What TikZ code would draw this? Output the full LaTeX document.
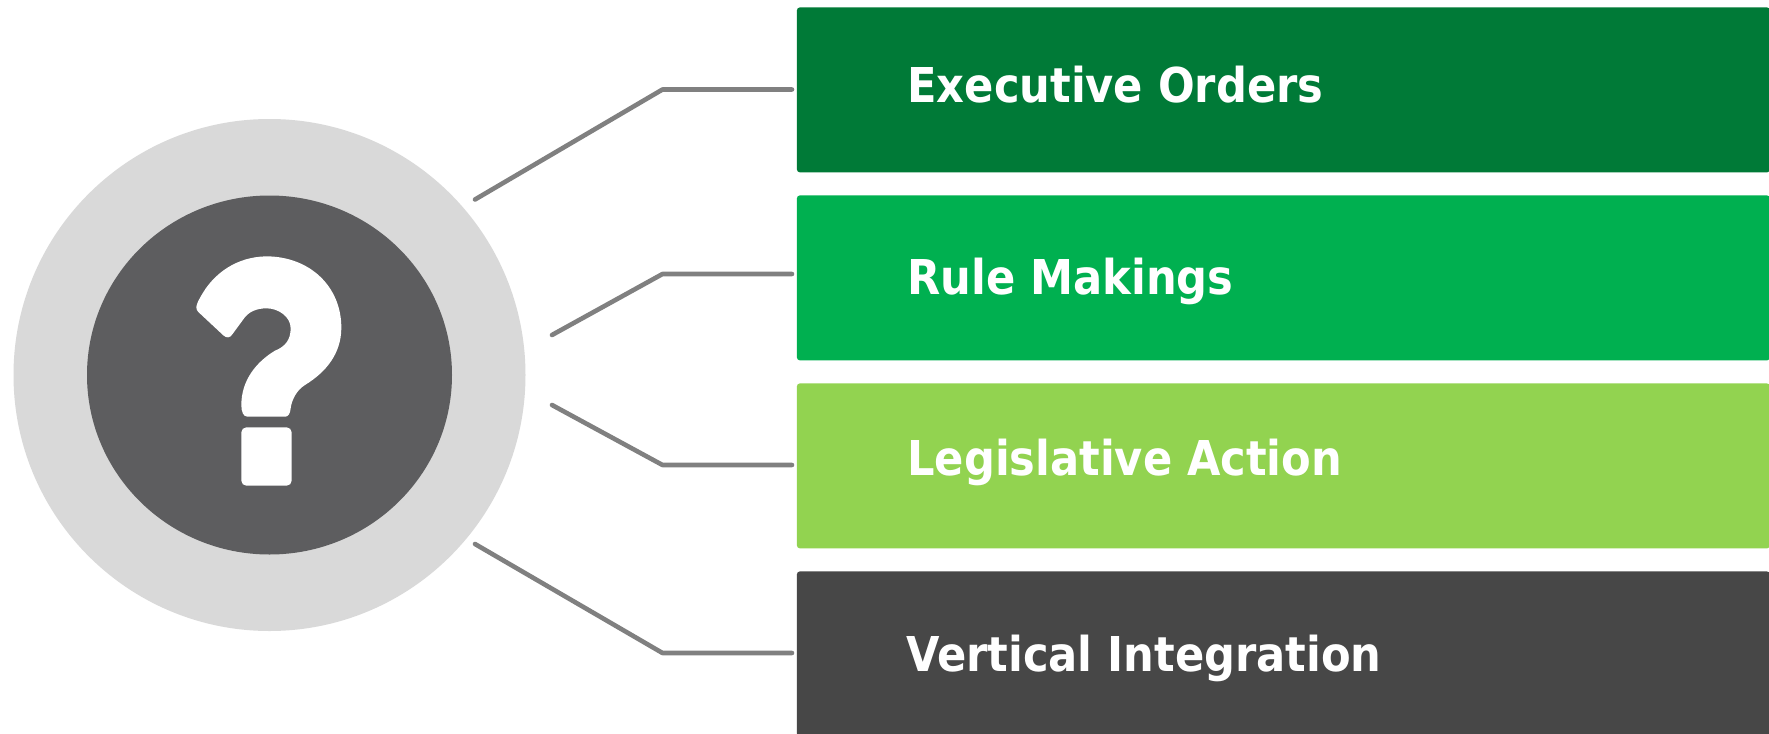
\documentclass[tikz,border=0pt]{standalone}
\usepackage{fontspec}
\newfontfamily\lblfont{DejaVu Sans Condensed Bold}
\usetikzlibrary{calc,shapes.geometric}
\definecolor{cA}{HTML}{007A37}
\definecolor{cB}{HTML}{00B050}
\definecolor{cC}{HTML}{92D350}
\definecolor{cD}{HTML}{474747}
\definecolor{ring}{HTML}{D9D9D9}
\definecolor{hub}{HTML}{5D5D5F}
\definecolor{wire}{HTML}{808080}
\tikzset{
  barbox/.style={rectangle,rounded corners=1.5pt,anchor=north west,minimum width=486.5pt,minimum height=82.5pt,inner sep=0pt,draw=none},
  barlabel/.style={anchor=base west,inner sep=0pt,text=white,font=\lblfont\fontsize{24pt}{28pt}\selectfont},
  wireline/.style={draw=wire,line width=2.3pt,line cap=round,line join=round},
}
\begin{document}
\begin{tikzpicture}[x=0.5pt,y=-0.5pt]
\useasboundingbox (0,0) rectangle (1769,734);
\fill[white] (0,0) rectangle (1769,734);
\node[circle,fill=ring,minimum size=256pt,inner sep=0pt] (outer) at (269.5,375) {};
\node[ellipse,fill=hub,minimum width=182.5pt,minimum height=179.5pt,inner sep=0pt] (inner) at (269.5,375) {};
% question mark
\begin{scope}[shift={(170,230)},x=0.16667pt,y=-0.16667pt]
\fill[white] (79,232) .. controls (80,222) and (85,212) .. (92,200)
  .. controls (130,130) and (200,80) .. (290,79)
  .. controls (420,80) and (515,170) .. (514,295)
  .. controls (513,370) and (470,425) .. (405,465)
  .. controls (380,480) and (365,510) .. (362,535)
  .. controls (360,552) and (355,560) .. (345,560)
  -- (232,560) .. controls (220,560) and (214,545) .. (214,525)
  .. controls (214,450) and (260,395) .. (315,362)
  .. controls (345,350) and (362,330) .. (362,295)
  .. controls (362,260) and (325,235) .. (290,235)
  .. controls (260,235) and (235,245) .. (220,268)
  -- (187,313) .. controls (180,324) and (170,325) .. (160,316)
  -- (85,246) .. controls (81,242) and (79,238) .. (79,232) -- cycle;
\fill[white,rounded corners=2.5pt] (214,592) rectangle (365,767);
\end{scope}
% bars
\node[barbox,fill=cA] (b1) at (796.5,7) {};
\node[barbox,fill=cB] (b2) at (796.5,195) {};
\node[barbox,fill=cC] (b3) at (796.5,383) {};
\node[barbox,fill=cD] (b4) at (796.5,571) {};
\node[barlabel] (t1) at (907,102) {Executive Orders};
\node[barlabel] (t2) at (907,294) {Rule Makings};
\node[barlabel] (t3) at (907,475) {Legislative Action};
\node[barlabel] (t4) at (906,671) {Vertical Integration};
% connectors
\coordinate (s1) at (475,199.5); \coordinate (k1) at (662.5,89.5); \coordinate (e1) at (792,89.5);
\coordinate (s2) at (552,335); \coordinate (k2) at (662.5,274); \coordinate (e2) at (792,274);
\coordinate (s3) at (552,405); \coordinate (k3) at (662.5,465); \coordinate (e3) at (792,465);
\coordinate (s4) at (475,544); \coordinate (k4) at (662.5,653); \coordinate (e4) at (792,653);
\draw[wireline] (s1) -- (k1) -- (e1);
\draw[wireline] (s2) -- (k2) -- (e2);
\draw[wireline] (s3) -- (k3) -- (e3);
\draw[wireline] (s4) -- (k4) -- (e4);
\end{tikzpicture}
\end{document}
